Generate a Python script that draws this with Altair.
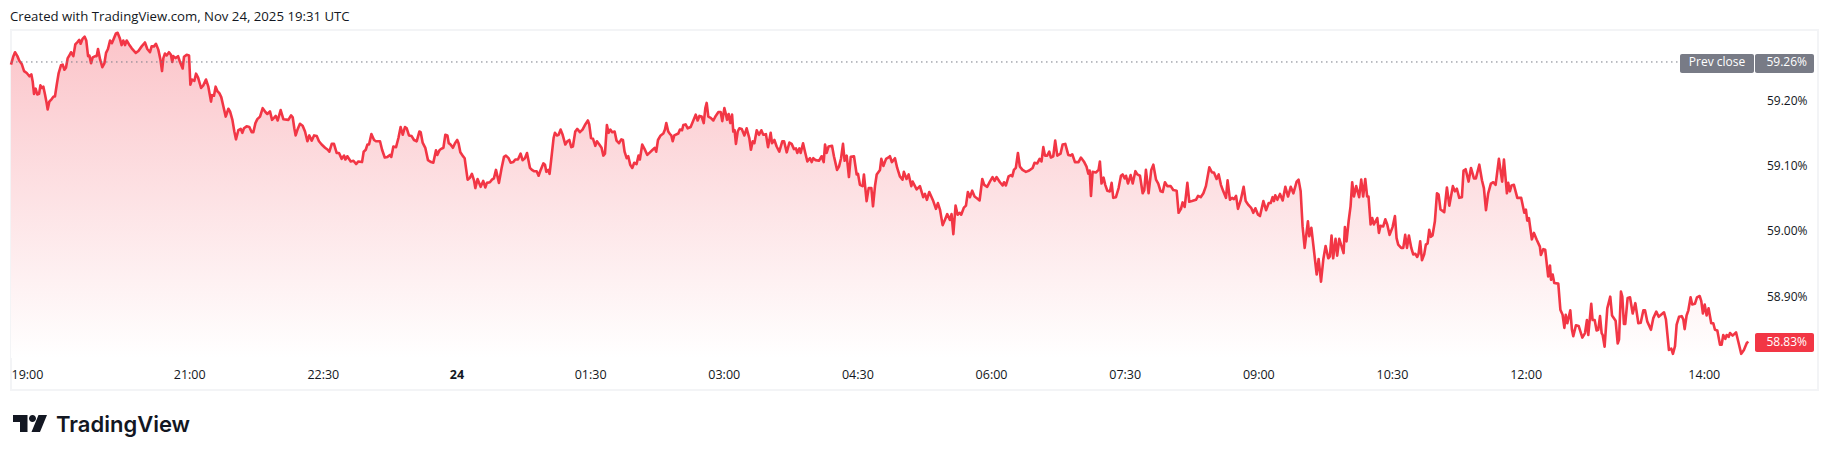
import altair as alt
import pandas as pd

# minutes since 19:00 on Nov 23, and the yield
minutes_a = [0.0,1.6,2.7,4.3,5.6,7.2,8.8,10.6,12.4,13.7,14.6,15.5,16.6,17.7,18.9,19.8,20.9,21.8,22.9,24.0,24.7,25.8,27.4,28.7,29.6,30.8,32.1,33.7,34.8,36.0,37.0,38.2,39.3,40.4,42.0,43.3,44.9,46.0,46.9,48.3,49.6,50.7,51.9,52.8,53.9,55.0,56.8,57.7,58.6,60.0,61.5,62.9,64.0,65.3,66.7,68.0,69.4,70.7,71.8,73.2,74.5,75.6,76.8,77.9,79.5,81.3,84.0,85.8,88.0,90.2,91.8,93.6,94.7,96.3,97.6,99.2,100.6,101.7,102.6,103.7,104.8,106.4,107.7,108.6,109.3,110.9,112.5,113.8,115.6,116.5,118.3,119.9,120.8,121.9,123.5,124.6,126.0,128.0,129.5,131.3,132.9,134.7,135.4,136.7,137.8,139.0,140.3,141.6,143.0,144.6,146.4]
yield_a = [59.256,59.269,59.275,59.269,59.262,59.257,59.246,59.243,59.238,59.241,59.230,59.211,59.219,59.210,59.211,59.224,59.220,59.222,59.210,59.197,59.187,59.199,59.203,59.207,59.207,59.225,59.243,59.255,59.256,59.248,59.251,59.266,59.270,59.275,59.269,59.287,59.291,59.294,59.288,59.296,59.299,59.293,59.269,59.270,59.258,59.267,59.269,59.269,59.280,59.264,59.252,59.258,59.274,59.280,59.293,59.289,59.297,59.304,59.305,59.297,59.286,59.293,59.286,59.293,59.287,59.281,59.274,59.277,59.284,59.290,59.280,59.275,59.284,59.284,59.288,59.279,59.264,59.246,59.266,59.273,59.270,59.275,59.271,59.260,59.269,59.266,59.269,59.260,59.250,59.268,59.271,59.270,59.225,59.233,59.231,59.242,59.236,59.220,59.224,59.233,59.222,59.199,59.209,59.208,59.222,59.215,59.212,59.206,59.192,59.176,59.188]

minutes_b = [147.5,149.1,150.4,151.5,153.1,154.7,155.8,156.9,158.7,160.5,162.1,163.2,164.6,165.9,167.7,169.5,171.3,172.6,174.4,175.8,177.1,178.3,179.6,181.6,183.4,186.8,188.6,189.7,190.8,191.7,193.1,194.6,196.4,198.0,199.6,200.9,202.5,204.1,205.9,207.4,209.2,211.5,213.3,214.4,216.0,217.5,219.3,220.9,222.7,224.3,225.2,226.5,228.8,230.6,232.4,233.9,236.4,237.5,238.9,240.0,241.1,242.7,244.5,245.8,248.5,249.9,251.7,253.5,255.2,256.1,257.5,259.3,260.9,262.4,263.8,265.3,266.5,268.0,269.8,271.4,273.2,275.0,275.9,277.2,279.0,280.8,282.9,284.4,286.2,287.1,288.5,289.4,291.2,292.5,293.9,294.8]
yield_b = [59.184,59.171,59.153,59.141,59.155,59.157,59.151,59.158,59.161,59.160,59.152,59.152,59.166,59.172,59.176,59.189,59.183,59.180,59.184,59.171,59.174,59.177,59.170,59.186,59.172,59.171,59.178,59.175,59.158,59.147,59.157,59.165,59.162,59.153,59.138,59.147,59.139,59.147,59.146,59.138,59.133,59.128,59.125,59.122,59.134,59.134,59.120,59.120,59.111,59.116,59.110,59.115,59.107,59.108,59.103,59.107,59.106,59.122,59.125,59.133,59.133,59.149,59.140,59.138,59.138,59.125,59.113,59.114,59.117,59.114,59.130,59.129,59.143,59.160,59.148,59.160,59.158,59.147,59.146,59.140,59.138,59.153,59.152,59.136,59.128,59.109,59.106,59.105,59.124,59.117,59.124,59.126,59.128,59.148,59.147,59.135]

minutes_c = [295.6,296.7,297.6,299.0,300.5,301.4,302.6,304.1,305.5,306.4,307.5,309.1,310.4,311.8,312.7,314.2,316.3,318.0,319.4,320.5,322.5,323.9,325.2,326.6,328.6,330.4,332.0,333.3,335.1,336.5,338.2,339.6,341.4,343.2,344.5,346.1,347.5,349.5,350.8,352.2,354.0,355.3,356.7,358.5,359.6,360.5,361.8,362.7,363.8,365.4,366.3,367.7,368.8,370.1,371.5,373.3,374.6,376.0,377.3,378.4,380.0,381.3,383.1,384.9,386.5,388.5,389.4,390.6,391.9,393.5,394.6,396.2,397.7,398.9,400.0,401.3,402.4,403.6,404.9,406.5,407.8,409.4,411.0,412.1,413.2,414.6,415.7,417.0,418.4,419.7,421.3,422.6,423.5,425.1,426.7,428.5,430.3,432.1,433.6,434.5,435.7,437.5,439.3,440.4,441.3,442.6]
yield_c = [59.134,59.131,59.128,59.135,59.140,59.135,59.121,59.116,59.112,59.097,59.079,59.082,59.088,59.078,59.066,59.080,59.068,59.077,59.067,59.074,59.075,59.079,59.081,59.094,59.074,59.097,59.114,59.116,59.112,59.105,59.106,59.110,59.110,59.119,59.109,59.112,59.120,59.097,59.094,59.092,59.092,59.085,59.094,59.104,59.102,59.091,59.094,59.088,59.110,59.143,59.151,59.147,59.148,59.156,59.148,59.133,59.138,59.140,59.129,59.130,59.153,59.157,59.152,59.156,59.163,59.170,59.164,59.143,59.142,59.131,59.138,59.133,59.128,59.116,59.119,59.163,59.151,59.156,59.152,59.153,59.139,59.135,59.141,59.140,59.122,59.112,59.115,59.102,59.097,59.105,59.103,59.116,59.110,59.133,59.126,59.117,59.121,59.125,59.128,59.122,59.140,59.147,59.150,59.156,59.166,59.153]

minutes_d = [443.8,444.7,445.6,446.7,449.4,450.5,451.9,452.8,454.3,455.7,457.7,459.5,461.1,462.4,463.6,465.1,466.5,467.6,468.5,469.6,471.2,473.0,474.6,476.4,477.9,479.0,480.4,481.5,482.2,483.3,484.4,485.6,486.4,487.3,488.2,489.4,490.5,492.1,493.9,495.4,497.2,498.3,499.5,500.6,502.2,503.7,505.3,506.6,508.4,509.8,511.6,512.5,514.1,515.6,517.4,519.4,520.6,522.4,524.2,525.7,527.3,528.6,529.5,530.9,531.8,533.4,534.7,536.3,538.1,539.2,540.3,541.9,544.1,545.9,547.3,548.2,549.3,550.6,552.9,554.2,556.3,557.6,559.0,560.3,561.4,562.8,564.3,565.5,567.7,569.5,570.4,571.7,573.5,574.4,576.2,577.6,579.4,580.5,581.9,583.0,585.2,586.1,587.5,589.3,591.5]
yield_d = [59.149,59.147,59.138,59.147,59.150,59.156,59.155,59.163,59.164,59.158,59.160,59.170,59.179,59.170,59.177,59.176,59.166,59.189,59.197,59.176,59.174,59.170,59.177,59.183,59.183,59.169,59.189,59.179,59.171,59.180,59.166,59.179,59.153,59.155,59.134,59.153,59.158,59.157,59.147,59.158,59.143,59.125,59.138,59.135,59.155,59.148,59.155,59.148,59.149,59.129,59.151,59.135,59.140,59.130,59.122,59.138,59.138,59.121,59.136,59.134,59.126,59.127,59.120,59.127,59.120,59.135,59.122,59.107,59.112,59.106,59.112,59.109,59.108,59.115,59.106,59.133,59.120,59.130,59.131,59.115,59.094,59.099,59.112,59.134,59.108,59.116,59.083,59.114,59.115,59.087,59.088,59.071,59.069,59.087,59.046,59.066,59.066,59.038,59.070,59.087,59.094,59.111,59.100,59.111,59.114]

minutes_e = [591.9,593.2,595.3,596.8,598.6,600.4,601.3,603.1,604.5,606.3,607.2,609.9,612.1,614.3,615.5,616.8,618.4,621.1,622.9,624.2,625.6,627.4,628.9,630.5,632.3,633.4,634.6,636.1,637.5,639.0,639.9,641.7,643.1,644.4,645.8,647.3,648.9,650.7,652.3,654.1,655.4,657.4,659.2,661.0,662.4,663.7,666.0,667.8,668.7,670.0,671.8,673.4,674.3,675.4,676.7,678.1,679.4,681.2,683.5,685.7,688.0,689.3,691.1,692.7,694.0,695.2,696.3,697.8,699.2,700.3,701.9,703.2,704.6,706.8,708.2,710.0,712.0,713.6,714.7,716.5,718.9,720.5,722.5,724.3,725.5,726.4,727.3,728.4,730.6,732.4,733.3,734.4,735.8,736.9,738.3,739.6]
yield_e = [59.115,59.106,59.112,59.097,59.084,59.079,59.091,59.080,59.087,59.069,59.076,59.064,59.069,59.052,59.057,59.048,59.060,59.046,59.034,59.043,59.033,59.009,59.017,59.026,59.017,59.026,58.995,59.039,59.025,59.028,59.025,59.036,59.039,59.060,59.052,59.062,59.053,59.050,59.047,59.080,59.071,59.068,59.076,59.083,59.077,59.083,59.075,59.070,59.075,59.070,59.084,59.086,59.084,59.094,59.097,59.120,59.099,59.094,59.091,59.093,59.097,59.105,59.104,59.111,59.107,59.129,59.116,59.116,59.122,59.113,59.115,59.139,59.116,59.119,59.133,59.134,59.117,59.116,59.118,59.106,59.106,59.113,59.107,59.099,59.088,59.093,59.054,59.091,59.090,59.094,59.107,59.073,59.082,59.071,59.062,59.061]

minutes_f = [740.1,741.2,742.3,744.1,745.9,747.5,748.6,750.0,750.9,752.2,754.0,755.4,757.2,758.5,760.3,762.1,763.2,764.3,766.1,767.9,769.3,771.1,772.6,774.2,775.6,777.1,778.7,781.0,782.7,785.0,786.3,787.9,789.0,790.4,792.2,793.5,795.3,798.0,799.4,801.2,803.0,804.7,807.0,808.8,810.1,811.9,813.3,814.8,816.4,818.2,819.3,820.9,822.3,823.6,825.0,826.3,828.1,830.1,831.5,833.3,835.3,836.6,838.0,839.8,841.1,843.4,845.2,847.0,848.3,849.6,850.5,851.4,852.8,854.6,856.4,858.2,860.0,861.8,863.6,865.8,867.1,868.5,869.8,871.2,873.4,874.3,875.7,877.5,879.3,880.6,882.2,883.8,885.3,887.1]
yield_f = [59.061,59.074,59.051,59.052,59.066,59.085,59.087,59.081,59.085,59.073,59.086,59.073,59.092,59.087,59.085,59.058,59.063,59.094,59.058,59.094,59.102,59.079,59.073,59.061,59.060,59.075,59.069,59.069,59.063,59.062,59.028,59.034,59.044,59.037,59.074,59.045,59.046,59.048,59.054,59.052,59.058,59.069,59.098,59.090,59.090,59.080,59.087,59.071,59.061,59.051,59.078,59.048,59.051,59.049,59.054,59.034,59.047,59.068,59.046,59.040,59.035,59.028,59.035,59.025,59.023,59.046,59.032,59.043,59.043,59.052,59.046,59.055,59.048,59.057,59.047,59.068,59.053,59.068,59.058,59.076,59.079,59.061,59.007,58.974,59.015,58.992,59.005,58.969,58.933,58.957,58.922,58.957,58.977,58.958]

minutes_g = [888.2,889.3,890.4,892.0,893.1,894.5,896.1,897.4,898.3,899.4,900.8,902.1,903.2,904.4,905.9,907.9,909.3,910.6,912.0,913.3,914.2,915.6,916.7,917.8,920.1,921.2,922.3,924.1,925.5,926.8,928.4,930.4,932.0,933.1,934.2,936.2,937.6,938.9,940.1,941.4,943.0,944.3,945.7,947.0,947.9,949.0,950.2,951.7,952.8,954.0,955.1,956.2,957.3,958.9,960.3,961.4,962.7,965.2,967.0,968.6,971.0,972.4,973.7,975.3,977.1,978.2,979.6,981.6,983.2,985.2,986.5,988.8,990.6,991.9,993.3,994.8,996.6,998.2,999.8,1002.0,1004.2,1005.4,1007.4,1008.3,1009.4,1010.5,1012.1,1014.4,1017.0,1019.1,1020.2,1021.1,1022.2,1024.2,1025.6,1027.4,1029.6,1030.3,1031.9,1033.2,1035.2]
yield_g = [58.961,58.993,58.958,58.988,58.962,58.988,58.976,58.966,59.006,58.984,59.015,59.038,59.075,59.053,59.069,59.052,59.079,59.053,59.080,59.053,59.053,59.010,59.020,59.010,59.020,58.997,59.008,59.007,59.018,59.010,58.994,59.006,59.023,58.989,58.979,58.974,58.974,58.994,58.974,58.993,58.974,58.964,58.965,58.960,58.965,58.984,58.955,58.964,58.979,58.981,59.002,58.991,58.993,59.015,59.058,59.056,59.033,59.029,59.067,59.039,59.069,59.061,59.065,59.051,59.052,59.093,59.095,59.076,59.097,59.081,59.081,59.102,59.078,59.066,59.032,59.058,59.073,59.075,59.071,59.111,59.076,59.110,59.058,59.074,59.061,59.070,59.071,59.051,59.051,59.028,59.033,59.016,59.020,58.987,58.997,58.987,58.976,58.963,58.972,58.971,58.930]

minutes_h = [1036.4,1037.1,1038.2,1039.3,1042.0,1043.4,1044.9,1046.1,1047.0,1048.1,1050.1,1051.2,1052.1,1053.9,1055.7,1058.2,1060.0,1061.3,1062.2,1064.2,1065.1,1066.5,1067.8,1068.9,1070.1,1071.2,1071.9,1073.2,1075.0,1077.0,1078.2,1080.6,1082.0,1082.9,1084.2,1085.1,1086.2,1087.1,1088.7,1090.3,1092.1,1093.9,1095.9,1097.5,1099.3,1100.4,1101.9,1104.4,1106.0,1108.0,1109.6,1113.2,1114.5,1116.5,1118.1,1119.2,1120.6,1121.7,1123.3,1125.1,1126.2,1127.1,1128.4,1129.6,1131.1,1132.2,1134.0,1135.4,1137.2,1138.3,1139.4,1140.6,1141.9,1143.2,1145.0,1146.4,1147.5,1149.1,1150.9,1152.0,1153.1,1154.5,1155.4,1156.7,1157.6,1159.4,1161.7,1163.2,1165.2,1167.0,1168.8,1169.9]
yield_h = [58.947,58.925,58.933,58.920,58.919,58.879,58.871,58.851,58.871,58.858,58.878,58.848,58.838,58.855,58.854,58.836,58.843,58.863,58.840,58.888,58.863,58.863,58.847,58.848,58.869,58.843,58.840,58.822,58.881,58.899,58.870,58.862,58.827,58.833,58.907,58.899,58.857,58.857,58.897,58.898,58.873,58.889,58.858,58.859,58.878,58.878,58.861,58.848,58.866,58.876,58.868,58.875,58.864,58.817,58.819,58.811,58.823,58.856,58.868,58.869,58.864,58.849,58.870,58.878,58.898,58.887,58.888,58.898,58.900,58.892,58.873,58.887,58.870,58.881,58.858,58.858,58.848,58.847,58.825,58.825,58.840,58.834,58.840,58.837,58.843,58.839,58.844,58.830,58.811,58.817,58.827,58.830]

tick_minutes = [0, 120, 210, 300, 390, 480, 570, 660, 750, 840, 930, 1020, 1140]
tick_labels = ["19:00", "21:00", "22:30", "24", "01:30", "03:00", "04:30", "06:00", "07:30", "09:00", "10:30", "12:00", "14:00"]
yield_ticks = [58.9, 59.0, 59.1, 59.2]
prev_close = 59.26
last_yield = 58.83

# logo glyph, drawn in a -1..1 box as vega wants it
LOGO = ("M-1,-.5 L-.147,-.5 L-.147,.5 L-.588,.5 L-.588,-.088 L-1,-.088 Z "
        "M.5,-.5 L1,-.5 L.588,.5 L.088,.5 Z "
        "M-.059,-.294 a.206,.206 0 1,0 .412,0 a.206,.206 0 1,0 -.412,0 Z")

RED = "#f23645"
GREY = "#787b86"
INK = "#131722"
FONT = "Open Sans"

df = pd.DataFrame({
    "minute": minutes_a + minutes_b + minutes_c + minutes_d + minutes_e + minutes_f + minutes_g + minutes_h,
    "yield": yield_a + yield_b + yield_c + yield_d + yield_e + yield_f + yield_g + yield_h,
})

x_scale = alt.Scale(domain=[0, 1216.9], nice=False, zero=False)
y_scale = alt.Scale(domain=[58.7554, 59.3092], nice=False, zero=False)

label_lookup = "{" + ",".join(f"'{m}':'{l}'" for m, l in zip(tick_minutes, tick_labels)) + "}"

x_axis = alt.Axis(
    values=tick_minutes, labelExpr=label_lookup + "[datum.value]", title=None, grid=False,
    domain=False, ticks=False, labelColor=INK, labelFont=FONT, labelFontSize=12.5,
    offset=-22, labelPadding=0, labelOverlap=False, labelFlush=False, labelBound=False, zindex=1,
    labelAlign={"condition": {"test": "datum.value == 0", "value": "left"}, "value": "center"},
    labelFontWeight={"condition": {"test": "datum.value == 300", "value": 700}, "value": 400},
)
y_axis = alt.Axis(
    values=yield_ticks, labelExpr="format(datum.value, '.2f') + '%'", title=None, grid=False,
    domain=False, ticks=False, orient="right", labelColor=INK, labelFont=FONT, labelFontSize=12,
    offset=-11, labelPadding=0, labelAlign="right", labelOverlap=False, zindex=1,
)

base = alt.Chart(df)

area = base.mark_area(
    interpolate="linear",
    line=False,
    color=alt.Gradient(
        gradient="linear", x1=0, x2=0, y1=0, y2=1,
        stops=[alt.GradientStop(offset=0, color="#fbc4c9"), alt.GradientStop(offset=1, color="#ffffff")],
    ),
).encode(
    x=alt.X("minute:Q", scale=x_scale, axis=x_axis),
    y=alt.Y("yield:Q", scale=y_scale, axis=y_axis, stack=None),
    y2=alt.value(328),
)

line = base.mark_line(color=RED, strokeWidth=2.6, strokeJoin="round").encode(
    x=alt.X("minute:Q", scale=x_scale, axis=x_axis),
    y=alt.Y("yield:Q", scale=y_scale, axis=y_axis),
)

prev_rule = alt.Chart().mark_rule(color=GREY, strokeWidth=1, strokeDash=[1.5, 3.5]).encode(
    x=alt.value(0), x2=alt.value(1667),
    y=alt.Y(datum=prev_close, scale=y_scale, axis=y_axis),
)

def badge(x0, x1, y0, y1, colour):
    return alt.Chart().mark_rect(color=colour, cornerRadius=2).encode(
        x=alt.value(x0), x2=alt.value(x1), y=alt.value(y0), y2=alt.value(y1)
    )

def badge_text(txt, x, value, align):
    return alt.Chart().mark_text(
        text=txt, color="white", font=FONT, fontSize=12, align=align, baseline="middle"
    ).encode(x=alt.value(x), y=alt.Y(datum=value, scale=y_scale, axis=y_axis))

created = alt.Chart().mark_text(
    text="Created with TradingView.com, Nov 24, 2025 19:31 UTC",
    color=INK, font=FONT, fontSize=13.2, align="left", baseline="middle",
).encode(x=alt.value(-1), y=alt.value(-13))

logo_mark = alt.Chart().mark_point(
    shape=LOGO, size=1156, filled=True, color=INK, opacity=1, strokeWidth=0
).encode(x=alt.value(19), y=alt.value(393.5))

logo_text = alt.Chart().mark_text(
    text="TradingView", color=INK, font="Inter", fontSize=22, fontWeight=600,
    align="left", baseline="alphabetic",
).encode(x=alt.value(45), y=alt.value(402))

chart = alt.layer(
    area, line, prev_rule,
    badge(1669, 1743, 24, 43, GREY), badge(1744, 1803, 24, 43, GREY),
    badge(1744, 1803, 303, 322, RED),
    badge_text("Prev close", 1706, prev_close, "center"),
    badge_text("59.26%", 1796, prev_close, "right"),
    badge_text("58.83%", 1796, last_yield, "right"),
    created, logo_mark, logo_text,
).properties(
    width=1807, height=360,
    padding={"left": 3, "top": 22, "right": 5, "bottom": 60},
    autosize=alt.AutoSizeParams(type="none"),
    background="white",
).configure_view(stroke="#f3f4f6", strokeWidth=2)

chart.save("out.html", embed_options={"renderer": "svg", "actions": False})
